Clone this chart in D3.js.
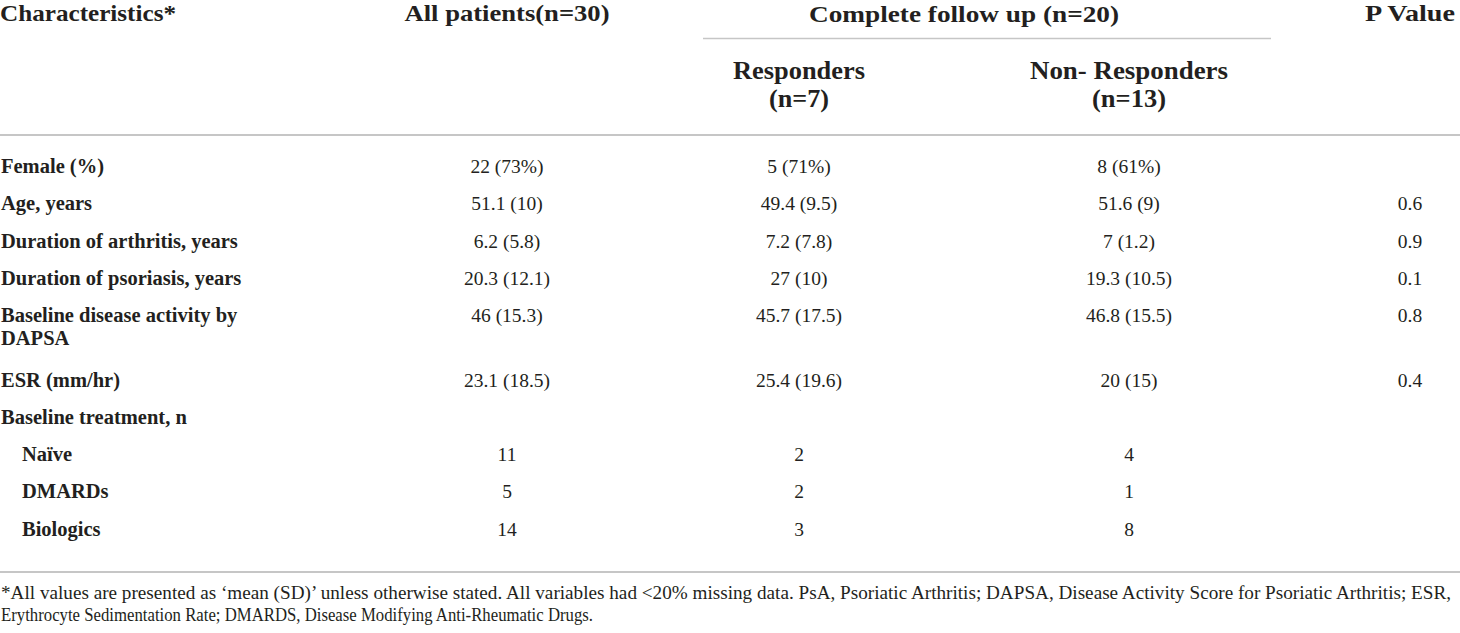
<!DOCTYPE html>
<html>
<head>
<meta charset="utf-8">
<script src="https://cdn.jsdelivr.net/npm/d3@7"></script>
<style>
  body { margin: 0; background: #fff; }
  svg text { font-family: "Liberation Serif", "DejaVu Serif", serif; fill: #231f20; }
</style>
</head>
<body>
<div id="table-container"></div>
<script>
// 표 데이터
const rowLabels = [
  ["Female (%)"],
  ["Age, years"],
  ["Duration of arthritis, years"],
  ["Duration of psoriasis, years"],
  ["Baseline disease activity by", "DAPSA"],
  ["ESR (mm/hr)"],
  ["Baseline treatment, n"],
  ["Naïve"],
  ["DMARDs"],
  ["Biologics"]
];
const subRow = [false, false, false, false, false, false, false, true, true, true];
const allPatients = ["22 (73%)", "51.1 (10)", "6.2 (5.8)", "20.3 (12.1)", "46 (15.3)", "23.1 (18.5)", "", "11", "5", "14"];
const responders = ["5 (71%)", "49.4 (9.5)", "7.2 (7.8)", "27 (10)", "45.7 (17.5)", "25.4 (19.6)", "", "2", "2", "3"];
const nonResponders = ["8 (61%)", "51.6 (9)", "7 (1.2)", "19.3 (10.5)", "46.8 (15.5)", "20 (15)", "", "4", "1", "8"];
const pValues = ["", "0.6", "0.9", "0.1", "0.8", "0.4", "", "", "", ""];

const columnKeys = ["all", "resp", "nonresp", "p"];
const columnValues = [allPatients, responders, nonResponders, pValues];

const footnote = [
  "*All values are presented as \u2018mean (SD)\u2019 unless otherwise stated. All variables had <20% missing data. PsA, Psoriatic Arthritis; DAPSA, Disease Activity Score for Psoriatic Arthritis; ESR,",
  "Erythrocyte Sedimentation Rate; DMARDS, Disease Modifying Anti-Rheumatic Drugs."
];

const width = 1460;
const height = 633;

// 열 중심 위치
const colX = d3.scaleOrdinal().domain(columnKeys).range([507, 799, 1129, 1410]);

const svg = d3.select("#table-container")
  .append("svg")
  .attr("width", width)
  .attr("height", height);

const lineColor = "#c6c6c6";

// 헤더
const header = svg.append("g");
header.append("text")
  .attr("x", 0).attr("y", 21)
  .style("font-size", "23px").style("font-weight", "bold")
  .attr("textLength", 176).attr("lengthAdjust", "spacingAndGlyphs")
  .text("Characteristics*");
header.append("text")
  .attr("x", colX("all")).attr("y", 21)
  .attr("text-anchor", "middle")
  .style("font-size", "23px").style("font-weight", "bold")
  .attr("textLength", 205).attr("lengthAdjust", "spacingAndGlyphs")
  .text("All patients(n=30)");
header.append("text")
  .attr("x", (colX("resp") + colX("nonresp")) / 2).attr("y", 22)
  .attr("text-anchor", "middle")
  .style("font-size", "24px").style("font-weight", "bold")
  .attr("textLength", 310).attr("lengthAdjust", "spacingAndGlyphs")
  .text("Complete follow up (n=20)");
header.append("text")
  .attr("x", colX("p")).attr("y", 21)
  .attr("text-anchor", "middle")
  .style("font-size", "23px").style("font-weight", "bold")
  .attr("textLength", 90).attr("lengthAdjust", "spacingAndGlyphs")
  .text("P Value");

const subHeads = [
  { key: "resp", lines: ["Responders", "(n=7)"], len: [132, 60] },
  { key: "nonresp", lines: ["Non- Responders", "(n=13)"], len: [198, 74] }
];
subHeads.forEach(h => {
  h.lines.forEach((t, i) => {
    header.append("text")
      .attr("x", colX(h.key)).attr("y", 79 + i * 28)
      .attr("text-anchor", "middle")
      .style("font-size", "25px").style("font-weight", "bold")
      .attr("textLength", h.len[i]).attr("lengthAdjust", "spacingAndGlyphs")
      .text(t);
  });
});

// 선
svg.append("line")
  .attr("x1", 703).attr("x2", 1271).attr("y1", 38.5).attr("y2", 38.5)
  .attr("stroke", lineColor).attr("stroke-width", 1.5);
svg.append("line")
  .attr("x1", 0).attr("x2", width).attr("y1", 135).attr("y2", 135)
  .attr("stroke", lineColor).attr("stroke-width", 2);
svg.append("line")
  .attr("x1", 0).attr("x2", width).attr("y1", 572).attr("y2", 572)
  .attr("stroke", lineColor).attr("stroke-width", 2);

// 행 위치 계산
const rowY = [];
let extra = 0;
rowLabels.forEach((lab, i) => {
  rowY.push(173 + 37.3 * i + extra);
  extra += (lab.length - 1) * 27;
});

const rows = svg.append("g").selectAll("g")
  .data(rowLabels)
  .enter().append("g")
  .attr("transform", (d, i) => `translate(0, ${rowY[i]})`);

rows.each(function(lab, i) {
  const g = d3.select(this);
  lab.forEach((t, j) => {
    g.append("text")
      .attr("x", subRow[i] ? 22 : 1)
      .attr("y", j * 23)
      .style("font-size", "20.5px").style("font-weight", "bold")
      .text(t);
  });
  columnKeys.forEach((k, c) => {
    g.append("text")
      .attr("x", colX(k))
      .attr("y", 0)
      .attr("text-anchor", "middle")
      .style("font-size", "19.5px")
      .text(columnValues[c][i]);
  });
});

// 각주
svg.append("g").selectAll("text")
  .data(footnote)
  .enter().append("text")
  .attr("x", 1)
  .attr("y", (d, i) => 599 + i * 22)
  .style("font-size", "19px")
  .attr("textLength", (d, i) => i === 0 ? 1450 : 592)
  .attr("lengthAdjust", "spacingAndGlyphs")
  .text(d => d);
</script>
</body>
</html>
